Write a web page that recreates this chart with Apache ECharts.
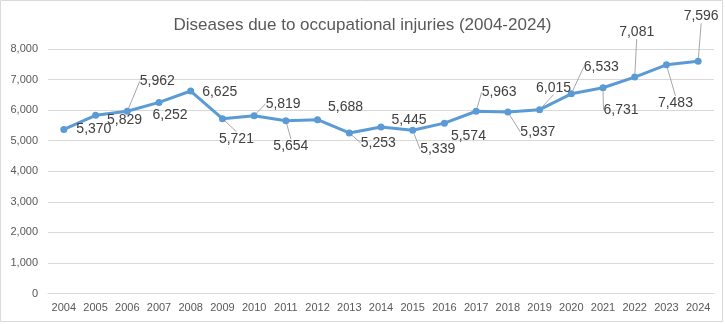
<!DOCTYPE html>
<html>
<head>
<meta charset="utf-8">
<script src="https://cdn.jsdelivr.net/npm/echarts@6/dist/echarts.min.js"></script>
<style>
html,body{margin:0;padding:0;background:#fff;}
#c{width:725px;height:324px;}
</style>
</head>
<body>
<div id="c"></div>
<script>
const years = ['2004','2005','2006','2007','2008','2009','2010','2011','2012','2013','2014','2015','2016','2017','2018','2019','2020','2021','2022','2023','2024'];
const cases = [5370,5829,5962,6252,6625,5721,5819,5654,5688,5253,5445,5339,5574,5963,5937,6015,6533,6731,7081,7483,7596];
const yTicks = {min:0, max:8000, interval:1000};

// label placement (style only): offset of label centre from its point, px
const labelOffsets = [[30,0],[29,5],[30,-30],[11,13],[29,1],[14,20],[29,-12],[5,25],[28,-13],[29,10],[28,-7],[25,19],[24,13],[23,-19],[30,20],[14,-22],[30,-27],[18,22],[2,-45],[9,38],[3,-45]];
const showLeader = [0,0,1,0,0,1,1,1,0,1,0,1,0,1,1,1,1,1,1,1,1];

const chart = echarts.init(document.getElementById('c'), null, {renderer:'canvas'});
chart.setOption({
  animation:false,
  title:{
    text:'Diseases due to occupational injuries (2004-2024)',
    left:'center', top:12,
    textStyle:{fontFamily:'Liberation Sans', fontSize:17, fontWeight:'normal', color:'#595959'}
  },
  graphic:[{type:'rect', shape:{x:0.5,y:0.5,width:722,height:321}, style:{fill:'none', stroke:'#d9d9d9', lineWidth:1}, silent:true}],
  grid:{left:48, right:11, top:49, bottom:30.5, containLabel:false},
  xAxis:{
    type:'category', data:years, boundaryGap:true,
    axisLine:{show:true, lineStyle:{color:'#d9d9d9'}},
    axisTick:{show:false},
    axisLabel:{interval:0, fontFamily:'Liberation Sans', fontSize:11, color:'#595959', margin:9}
  },
  yAxis:{
    type:'value', min:yTicks.min, max:yTicks.max, interval:yTicks.interval,
    axisLine:{show:false}, axisTick:{show:false},
    splitLine:{lineStyle:{color:'#d9d9d9'}},
    axisLabel:{fontFamily:'Liberation Sans', fontSize:11, color:'#595959', margin:10,
      formatter:v=>v.toLocaleString('en-US')}
  },
  series:[{
    type:'line',
    data:cases.map((v,i)=>({value:v, labelLine:{show:!!showLeader[i]}})),
    symbol:'circle', symbolSize:7,
    lineStyle:{color:'#5b9bd5', width:3},
    itemStyle:{color:'#5b9bd5'},
    label:{show:true, position:'inside', fontFamily:'Liberation Sans', fontSize:14, color:'#404040',
      formatter:p=>p.value.toLocaleString('en-US')},
    labelLine:{show:true, lineStyle:{color:'#a6a6a6', width:1}},
    labelLayout:function(p){
      const o = labelOffsets[p.dataIndex];
      const cx = p.rect.x + p.rect.width/2, cy = p.rect.y + p.rect.height/2;
      return {x: cx + o[0], y: cy + o[1], align:'center', verticalAlign:'middle'};
    },
    z:3
  }]
});
</script>
</body>
</html>
